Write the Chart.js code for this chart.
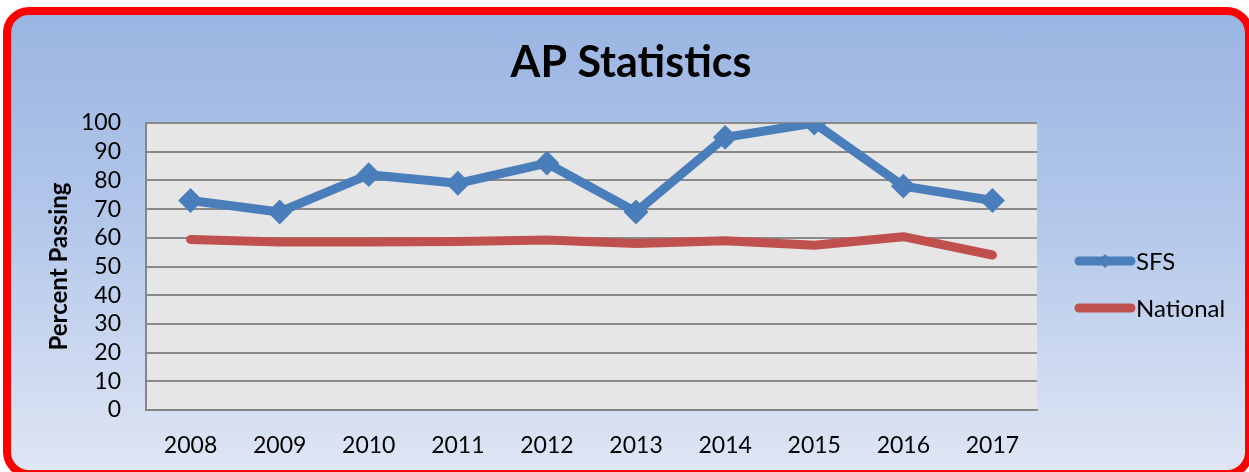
<!DOCTYPE html>
<html>
<head>
<meta charset="utf-8">
<script src="https://cdn.jsdelivr.net/npm/chart.js@4.4.1/dist/chart.umd.min.js"></script>
<style>
  html, body { margin: 0; padding: 0; background: #fff; overflow: hidden; }
  #frame {
    position: absolute; left: 3px; top: 7px;
    width: 1250px; height: 471px; box-sizing: border-box;
    border: 8px solid #ff0000; border-radius: 26px;
    background: linear-gradient(to bottom, #9ab5e2 0%, #b3c7ea 45%, #dfe6f4 100%);
  }
  #wrap { position: absolute; left: 0; top: 0; width: 1249px; height: 472px; }
</style>
</head>
<body>
<div id="frame"></div>
<div id="wrap"><canvas id="myChart"></canvas></div>
<script>
const years = ["2008", "2009", "2010", "2011", "2012", "2013", "2014", "2015", "2016", "2017"];
const sfs = [73, 69, 82, 79, 86, 69, 95, 100, 78, 73];
const national = [59.4, 58.5, 58.5, 58.7, 59.2, 58, 59, 57.4, 60.4, 54];
const yTicks = [0, 10, 20, 30, 40, 50, 60, 70, 80, 90, 100];

const FONT = "Lato, 'Open Sans', sans-serif";

// gray plot area behind the lines
const plotBg = {
  id: "plotBg",
  beforeDraw(chart) {
    const { ctx, chartArea: a } = chart;
    ctx.save();
    ctx.fillStyle = "#e6e6e6";
    ctx.fillRect(a.left, a.top, a.right - a.left, a.bottom - a.top);
    ctx.restore();
  },
};

// title centred over the whole picture, legend on the right
const decor = {
  id: "decor",
  afterDraw(chart) {
    const { ctx } = chart;
    ctx.save();
    ctx.fillStyle = "#000";
    ctx.font = "bold 43px " + FONT;
    ctx.textAlign = "center";
    ctx.textBaseline = "middle";
    ctx.fillText("AP Statistics", 631, 63);
    ctx.restore();

    const x0 = 1079, x1 = 1131;
    const rows = [261, 308];
    chart.data.datasets.forEach((ds, i) => {
      const y = rows[i];
      ctx.save();
      ctx.strokeStyle = ds.borderColor;
      ctx.lineWidth = 9;
      ctx.lineCap = "round";
      ctx.beginPath();
      ctx.moveTo(x0, y);
      ctx.lineTo(x1, y);
      ctx.stroke();
      if (ds.pointRadius > 0) {
        ctx.fillStyle = ds.borderColor;
        ctx.beginPath();
        const cx = (x0 + x1) / 2, r = 7;
        ctx.moveTo(cx, y - r);
        ctx.lineTo(cx + r, y);
        ctx.lineTo(cx, y + r);
        ctx.lineTo(cx - r, y);
        ctx.closePath();
        ctx.fill();
      }
      ctx.fillStyle = "#000";
      ctx.font = "24px " + FONT;
      ctx.textBaseline = "middle";
      ctx.fillText(ds.label, 1136, y + 1);
      ctx.restore();
    });
  },
};

const ctx = document.getElementById("myChart");

new Chart(ctx, {
  type: "line",
  data: {
    labels: years,
    datasets: [
      {
        label: "SFS",
        data: sfs,
        borderColor: "#4a7ebb",
        backgroundColor: "#4a7ebb",
        borderWidth: 9,
        pointStyle: "rectRot",
        pointRadius: 11,
        pointBorderWidth: 2,
        pointBackgroundColor: "#4a7ebb",
        pointBorderColor: "#4a7ebb",
        tension: 0,
        borderJoinStyle: "round",
      },
      {
        label: "National",
        data: national,
        borderColor: "#c0504d",
        backgroundColor: "#c0504d",
        borderWidth: 9,
        pointRadius: 0,
        tension: 0,
        borderCapStyle: "round",
        borderJoinStyle: "round",
      },
    ],
  },
  options: {
    responsive: true,
    maintainAspectRatio: false,
    animation: false,
    layout: { padding: { left: 0, top: 123, right: 212, bottom: 0 } },
    plugins: {
      legend: { display: false },
      tooltip: { enabled: false },
      title: { display: false },
    },
    scales: {
      x: {
        offset: true,
        grid: { display: false, drawTicks: false },
        border: { display: true, color: "#868686", width: 2 },
        ticks: { color: "#000", padding: 22, font: { family: FONT, size: 23 } },
        afterFit: (s) => { s.height = 62; },
      },
      y: {
        min: 0,
        max: 100,
        afterBuildTicks: (s) => { s.ticks = yTicks.map((v) => ({ value: v })); },
        grid: { color: "#8a8a8a", lineWidth: 2, drawTicks: false },
        border: { display: true, color: "#868686", width: 2 },
        ticks: { color: "#000", padding: 25, autoSkip: false, font: { family: FONT, size: 23 } },
        title: {
          display: true,
          text: "Percent Passing",
          color: "#000",
          font: { family: FONT, size: 24, weight: "bold" },
          padding: { top: 45, bottom: 0 },
        },
        afterFit: (s) => { s.width = 146; },
      },
    },
  },
  plugins: [plotBg, decor],
});
</script>
</body>
</html>
